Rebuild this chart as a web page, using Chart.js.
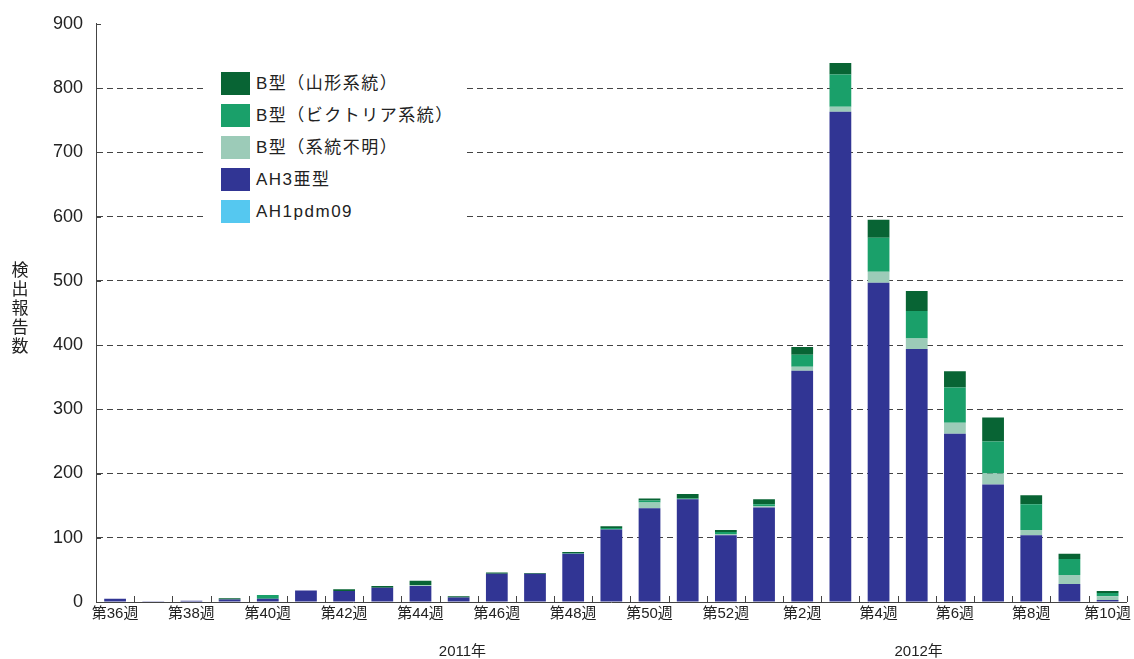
<!DOCTYPE html>
<html lang="ja">
<head>
<meta charset="UTF-8">
<title>検出報告数</title>
<script src="https://cdn.jsdelivr.net/npm/chart.js"></script>
<style>
  html, body { margin: 0; padding: 0; background: #fff; }
  #wrap { position: relative; width: 1134px; height: 659px; }
  #legend {
    position: absolute; left: 206px; top: 64px; width: 258px; height: 162px;
    background: #fff; font-family: "Liberation Sans", Arial, "Noto Sans CJK JP", sans-serif;
    font-size: 17px; color: #222; letter-spacing: 1.5px;
  }
  .row { position: absolute; left: 15px; height: 23px; line-height: 23px; white-space: nowrap; }
  .sw { display: inline-block; width: 29px; height: 23px; vertical-align: top; margin-right: 6px; }
</style>
</head>
<body>
<div id="wrap">
  <canvas id="chart" width="1134" height="659"></canvas>
  <div id="legend"></div>
</div>
<script>
  const weeks = ['第36週','第37週','第38週','第39週','第40週','第41週','第42週','第43週','第44週',
    '第45週','第46週','第47週','第48週','第49週','第50週','第51週','第52週',
    '第1週','第2週','第3週','第4週','第5週','第6週','第7週','第8週','第9週','第10週'];
  const ah1pdm09  = [0,0,0,0,0,0,0,0,0,0,0,0,0,0,0,0,0,0,0,0,0,0,0,0,0,0,0];
  const ah3       = [5,1,2,4,5,18,17,22,25,7,44,44,75,113,146,160,104,147,360,763,497,394,262,183,104,28,3];
  const bUnknown  = [0,0,0,0,0,0,0,0,1,0,0,0,0,0,9,0,2,2,6,8,17,16,17,17,8,14,6];
  const bVictoria = [0,0,0,0,6,0,0,0,0,0,0,0,1,2,3,1,3,3,19,50,53,43,55,50,40,25,5];
  const bYamagata = [0,0,0,2,0,0,3,3,7,2,2,1,2,3,3,7,3,8,12,18,28,31,25,37,14,8,3];
  const yearLabels = [{text: '2011年', at: 9.1}, {text: '2012年', at: 21.05}];

  const FONT = '"Liberation Sans", Arial, "Noto Sans CJK JP", sans-serif';

  const series = [
    {label: 'AH1pdm09', data: ah1pdm09, color: '#55c8f0'},
    {label: 'AH3亜型', data: ah3, color: '#313594'},
    {label: 'B型（系統不明）', data: bUnknown, color: '#9ccbb8'},
    {label: 'B型（ビクトリア系統）', data: bVictoria, color: '#1aa06a'},
    {label: 'B型（山形系統）', data: bYamagata, color: '#086434'}
  ];

  // legend, top row = last stacked series
  const legend = document.getElementById('legend');
  series.slice().reverse().forEach((s, i) => {
    const row = document.createElement('div');
    row.className = 'row';
    row.style.top = (8 + i * 32) + 'px';
    row.innerHTML = '<span class="sw" style="background:' + s.color + '"></span>' + s.label;
    legend.appendChild(row);
  });

  const extras = {
    id: 'extras',
    afterDraw(chart) {
      const ctx = chart.ctx;
      const a = chart.chartArea;
      const x = chart.scales.x, y = chart.scales.y;
      ctx.save();
      ctx.strokeStyle = '#444';
      ctx.lineWidth = 1;
      // inward ticks on x axis at category boundaries
      const step = (a.right - a.left) / weeks.length;
      ctx.beginPath();
      for (let i = 1; i <= weeks.length; i++) {
        const px = Math.round(a.left + i * step) + 0.5;
        ctx.moveTo(px, a.bottom);
        ctx.lineTo(px, a.bottom - 6);
      }
      // inward ticks on y axis
      y.ticks.forEach(t => {
        const py = Math.round(y.getPixelForValue(t.value)) + 0.5;
        ctx.moveTo(a.left, py);
        ctx.lineTo(a.left + 5, py);
      });
      ctx.stroke();
      // year labels
      ctx.fillStyle = '#222';
      ctx.font = '15px ' + FONT;
      ctx.textAlign = 'center';
      ctx.textBaseline = 'middle';
      yearLabels.forEach(l => ctx.fillText(l.text, x.getPixelForValue(l.at), 652));
      // vertical y title
      ctx.font = '17px ' + FONT;
      const title = '検出報告数';
      const mid = (a.top + a.bottom) / 2;
      for (let i = 0; i < title.length; i++) {
        ctx.fillText(title[i], 20, mid - 2 * 19 + i * 19 - 4);
      }
      ctx.restore();
    }
  };

  new Chart(document.getElementById('chart'), {
    type: 'bar',
    data: {
      labels: weeks,
      datasets: series.map(s => ({
        label: s.label,
        data: s.data,
        backgroundColor: s.color,
        borderWidth: 0,
        categoryPercentage: 1,
        barPercentage: 0.57
      }))
    },
    options: {
      responsive: false,
      animation: false,
      layout: {padding: {top: 22, right: 3}},
      plugins: {legend: {display: false}, tooltip: {enabled: false}},
      scales: {
        x: {
          stacked: true,
          afterFit: s => { s.height = 57; },
          grid: {display: false, drawTicks: false},
          border: {display: true, color: '#444', width: 1},
          ticks: {
            autoSkip: false, maxRotation: 0, padding: 3,
            color: '#222', font: {size: 15, family: FONT},
            callback: (v, i) => (i % 2 === 0 ? weeks[i] : '')
          }
        },
        y: {
          stacked: true,
          min: 0, max: 900,
          afterFit: s => { s.width = 96; },
          grid: {
            drawTicks: false,
            color: c => (c.tick.value === 0 || c.tick.value === 900 ? 'rgba(0,0,0,0)' : '#444'),
            lineWidth: 1
          },
          border: {display: true, color: '#444', width: 1, dash: [6, 4]},
          ticks: {stepSize: 100, padding: 13, color: '#222', font: {size: 18, family: FONT}}
        }
      }
    },
    plugins: [extras]
  });
</script>
</body>
</html>
